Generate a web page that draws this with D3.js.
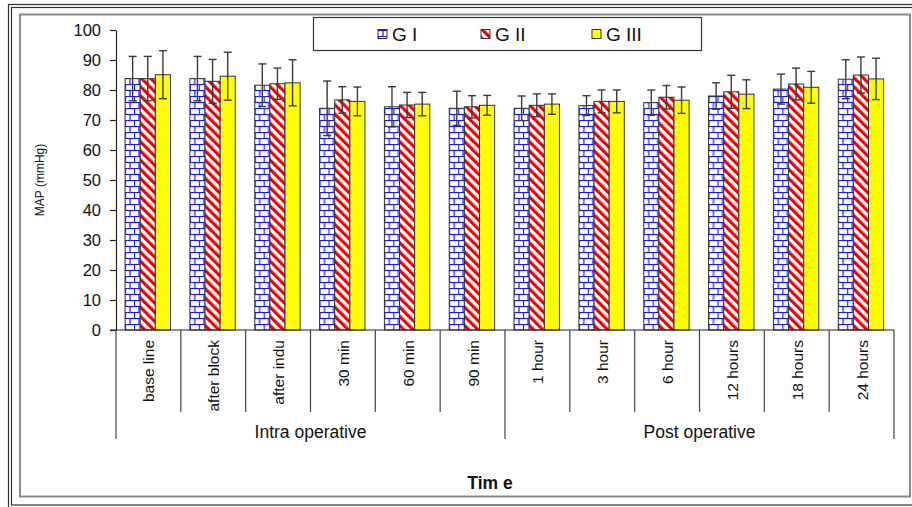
<!DOCTYPE html>
<html>
<head>
<meta charset="utf-8">
<script src="https://cdn.jsdelivr.net/npm/d3@7"></script>
<style>
  html, body { margin: 0; padding: 0; background: #fff; }
  svg { display: block; font-family: "Liberation Sans", Arial, sans-serif; }
</style>
</head>
<body>
<svg id="chart" width="912" height="507"></svg>
<script>
// Mean arterial pressure per time point, three study groups (mean and SD)
const categories = ["base line", "after block", "after indu", "30 min", "60 min", "90 min",
                    "1 hour", "3 hour", "6 hour", "12 hours", "18 hours", "24 hours"];
const phases = ["Intra operative", "Post operative"];
const phaseOf = ["Intra operative", "Intra operative", "Intra operative", "Intra operative", "Intra operative", "Intra operative",
                 "Post operative", "Post operative", "Post operative", "Post operative", "Post operative", "Post operative"];
const seriesNames = ["G I", "G II", "G III"];
const g1 = [83.8, 83.8, 81.6, 73.9, 74.4, 73.9, 73.9, 74.8, 75.8, 78.0, 80.3, 83.6];
const g1sd = [7.4, 7.4, 7.1, 9.1, 6.7, 5.7, 4.1, 3.3, 4.2, 4.4, 5.0, 6.5];
const g2 = [83.8, 82.9, 82.1, 76.7, 75.0, 74.4, 74.9, 76.2, 77.6, 79.4, 82.0, 85.0];
const g2sd = [7.4, 7.3, 5.2, 4.4, 4.2, 3.7, 3.8, 3.8, 3.9, 5.5, 5.3, 6.0];
const g3 = [85.1, 84.6, 82.4, 76.2, 75.3, 74.9, 75.3, 76.2, 76.6, 78.6, 80.9, 83.7];
const g3sd = [8.0, 8.0, 7.7, 4.8, 3.9, 3.3, 3.4, 3.8, 4.4, 4.8, 5.3, 6.9];
const yTicks = [0, 10, 20, 30, 40, 50, 60, 70, 80, 90, 100];

const means = [g1, g2, g3];
const sds = [g1sd, g2sd, g3sd];
const fills = ["url(#brick)", "url(#stripe)", "#ffff00"];

const svg = d3.select("#chart");

// Fill patterns: blue brick and red diagonal stripes
const defs = svg.append("defs");
const brick = defs.append("pattern").attr("id", "brick")
  .attr("patternUnits", "userSpaceOnUse").attr("width", 9).attr("height", 12);
brick.append("rect").attr("width", 9).attr("height", 12).attr("fill", "#fff");
[[0, 9, 0.5, 0.5], [0, 9, 6.5, 6.5], [0.5, 0.5, 0, 6], [5, 5, 6, 12]].forEach(([a, b, c, d]) => {
  brick.append("line").attr("x1", a).attr("x2", b).attr("y1", c).attr("y2", d)
    .attr("stroke", "#1a1aee").attr("stroke-width", 1.2);
});

const stripe = defs.append("pattern").attr("id", "stripe")
  .attr("patternUnits", "userSpaceOnUse").attr("width", 6.5).attr("height", 8)
  .attr("patternTransform", "rotate(-45)");
stripe.append("rect").attr("width", 6.5).attr("height", 8).attr("fill", "#fff");
stripe.append("rect").attr("x", 0).attr("y", 0).attr("width", 3.2).attr("height", 8).attr("fill", "#ee0000");

// Outer double frame and chart-area border
svg.append("rect").attr("x", 8.5).attr("y", 4.5).attr("width", 920).attr("height", 504)
  .attr("fill", "none").attr("stroke", "#333").attr("stroke-width", 1.2);
svg.append("rect").attr("x", 11.5).attr("y", 7.5).attr("width", 920).attr("height", 497.5)
  .attr("fill", "none").attr("stroke", "#333").attr("stroke-width", 1.2);
svg.append("rect").attr("x", 20).attr("y", 14.5).attr("width", 890).attr("height", 482)
  .attr("fill", "#fff").attr("stroke", "#8a8a8a").attr("stroke-width", 2);

// Scales
const x0 = d3.scaleBand().domain(categories).range([116, 894]).paddingInner(0).paddingOuter(0);
const bw = x0.bandwidth();
const x1 = d3.scaleBand().domain(seriesNames).range([bw * 0.14, bw * 0.84]).padding(0);
const y = d3.scaleLinear().domain([0, 100]).range([330, 30]);

// Y axis
const yAxis = svg.append("g").attr("transform", "translate(116,0)")
  .call(d3.axisLeft(y).tickValues(yTicks).tickSize(6).tickPadding(9).tickSizeOuter(0));
yAxis.select(".domain").attr("stroke", "#222").attr("stroke-width", 1.2);
yAxis.selectAll(".tick line").attr("stroke", "#222").attr("stroke-width", 1.2);
yAxis.selectAll(".tick text").attr("font-size", 16.5).attr("fill", "#111")
  .attr("font-family", "Liberation Sans, Arial, sans-serif");

svg.append("text").attr("transform", "translate(44,180) rotate(-90)")
  .attr("text-anchor", "middle").attr("font-size", 12).attr("fill", "#111").text("MAP (mmHg)");

// Bars
const groups = svg.append("g").selectAll("g").data(categories).join("g")
  .attr("transform", d => `translate(${x0(d)},0)`);

seriesNames.forEach((s, si) => {
  groups.append("rect")
    .attr("x", x1(s))
    .attr("y", (d, i) => y(means[si][i]))
    .attr("width", x1.bandwidth())
    .attr("height", (d, i) => y(0) - y(means[si][i]))
    .attr("fill", fills[si])
    .attr("stroke", "#333").attr("stroke-width", 1);
});

// Error bars (mean ± SD)
seriesNames.forEach((s, si) => {
  const cx = x1(s) + x1.bandwidth() / 2;
  const eb = groups.append("g").attr("stroke", "#3a3a3a").attr("stroke-width", 1.4);
  eb.append("line").attr("x1", cx).attr("x2", cx)
    .attr("y1", (d, i) => y(means[si][i] + sds[si][i]))
    .attr("y2", (d, i) => y(means[si][i] - sds[si][i]));
  eb.append("line").attr("x1", cx - 4).attr("x2", cx + 4)
    .attr("y1", (d, i) => y(means[si][i] + sds[si][i]))
    .attr("y2", (d, i) => y(means[si][i] + sds[si][i]));
  eb.append("line").attr("x1", cx - 4).attr("x2", cx + 4)
    .attr("y1", (d, i) => y(means[si][i] - sds[si][i]))
    .attr("y2", (d, i) => y(means[si][i] - sds[si][i]));
});

// X axis line and category dividers
svg.append("line").attr("x1", 110).attr("x2", 894).attr("y1", y(0)).attr("y2", y(0))
  .attr("stroke", "#222").attr("stroke-width", 1.2);

const edges = categories.map(c => x0(c)).concat([x0(categories[categories.length - 1]) + bw]);
svg.append("g").selectAll("line").data(edges).join("line")
  .attr("x1", d => d).attr("x2", d => d)
  .attr("y1", y(0)).attr("y2", 412)
  .attr("stroke", "#444").attr("stroke-width", 1.2);

// Phase dividers
const phaseBounds = phases.map(p => {
  const cs = categories.filter((c, i) => phaseOf[i] === p);
  return { name: p, x0: x0(cs[0]), x1: x0(cs[cs.length - 1]) + bw };
});
const phaseEdges = [phaseBounds[0].x0].concat(phaseBounds.map(p => p.x1));
svg.append("g").selectAll("line").data(phaseEdges).join("line")
  .attr("x1", d => d).attr("x2", d => d)
  .attr("y1", 412).attr("y2", 439)
  .attr("stroke", "#444").attr("stroke-width", 1.2);

// Category labels (rotated)
svg.append("g").selectAll("text").data(categories).join("text")
  .attr("transform", d => `translate(${x0(d) + bw / 2 + 6},340) rotate(-90)`)
  .attr("text-anchor", "end")
  .attr("font-size", 15.5).attr("fill", "#111")
  .text(d => d);

// Phase labels
svg.append("g").selectAll("text").data(phaseBounds).join("text")
  .attr("x", d => (d.x0 + d.x1) / 2).attr("y", 438)
  .attr("text-anchor", "middle").attr("font-size", 17.5).attr("fill", "#111")
  .text(d => d.name);

svg.append("text").attr("x", 490).attr("y", 489).attr("text-anchor", "middle")
  .attr("font-size", 17.5).attr("font-weight", "bold").attr("fill", "#111").text("Tim e");

// Legend
const legend = svg.append("g");
legend.append("rect").attr("x", 313.5).attr("y", 17.5).attr("width", 388).attr("height", 33)
  .attr("fill", "#fff").attr("stroke", "#333").attr("stroke-width", 1.2);
const legendX = [378, 481, 592];
seriesNames.forEach((s, si) => {
  legend.append("rect").attr("x", legendX[si]).attr("y", 29.5).attr("width", 9).attr("height", 9)
    .attr("fill", fills[si]).attr("stroke", "#333").attr("stroke-width", 1);
  legend.append("text").attr("x", legendX[si] + 14).attr("y", 41)
    .attr("font-size", 19).attr("fill", "#111").text(s);
});
</script>
</body>
</html>
